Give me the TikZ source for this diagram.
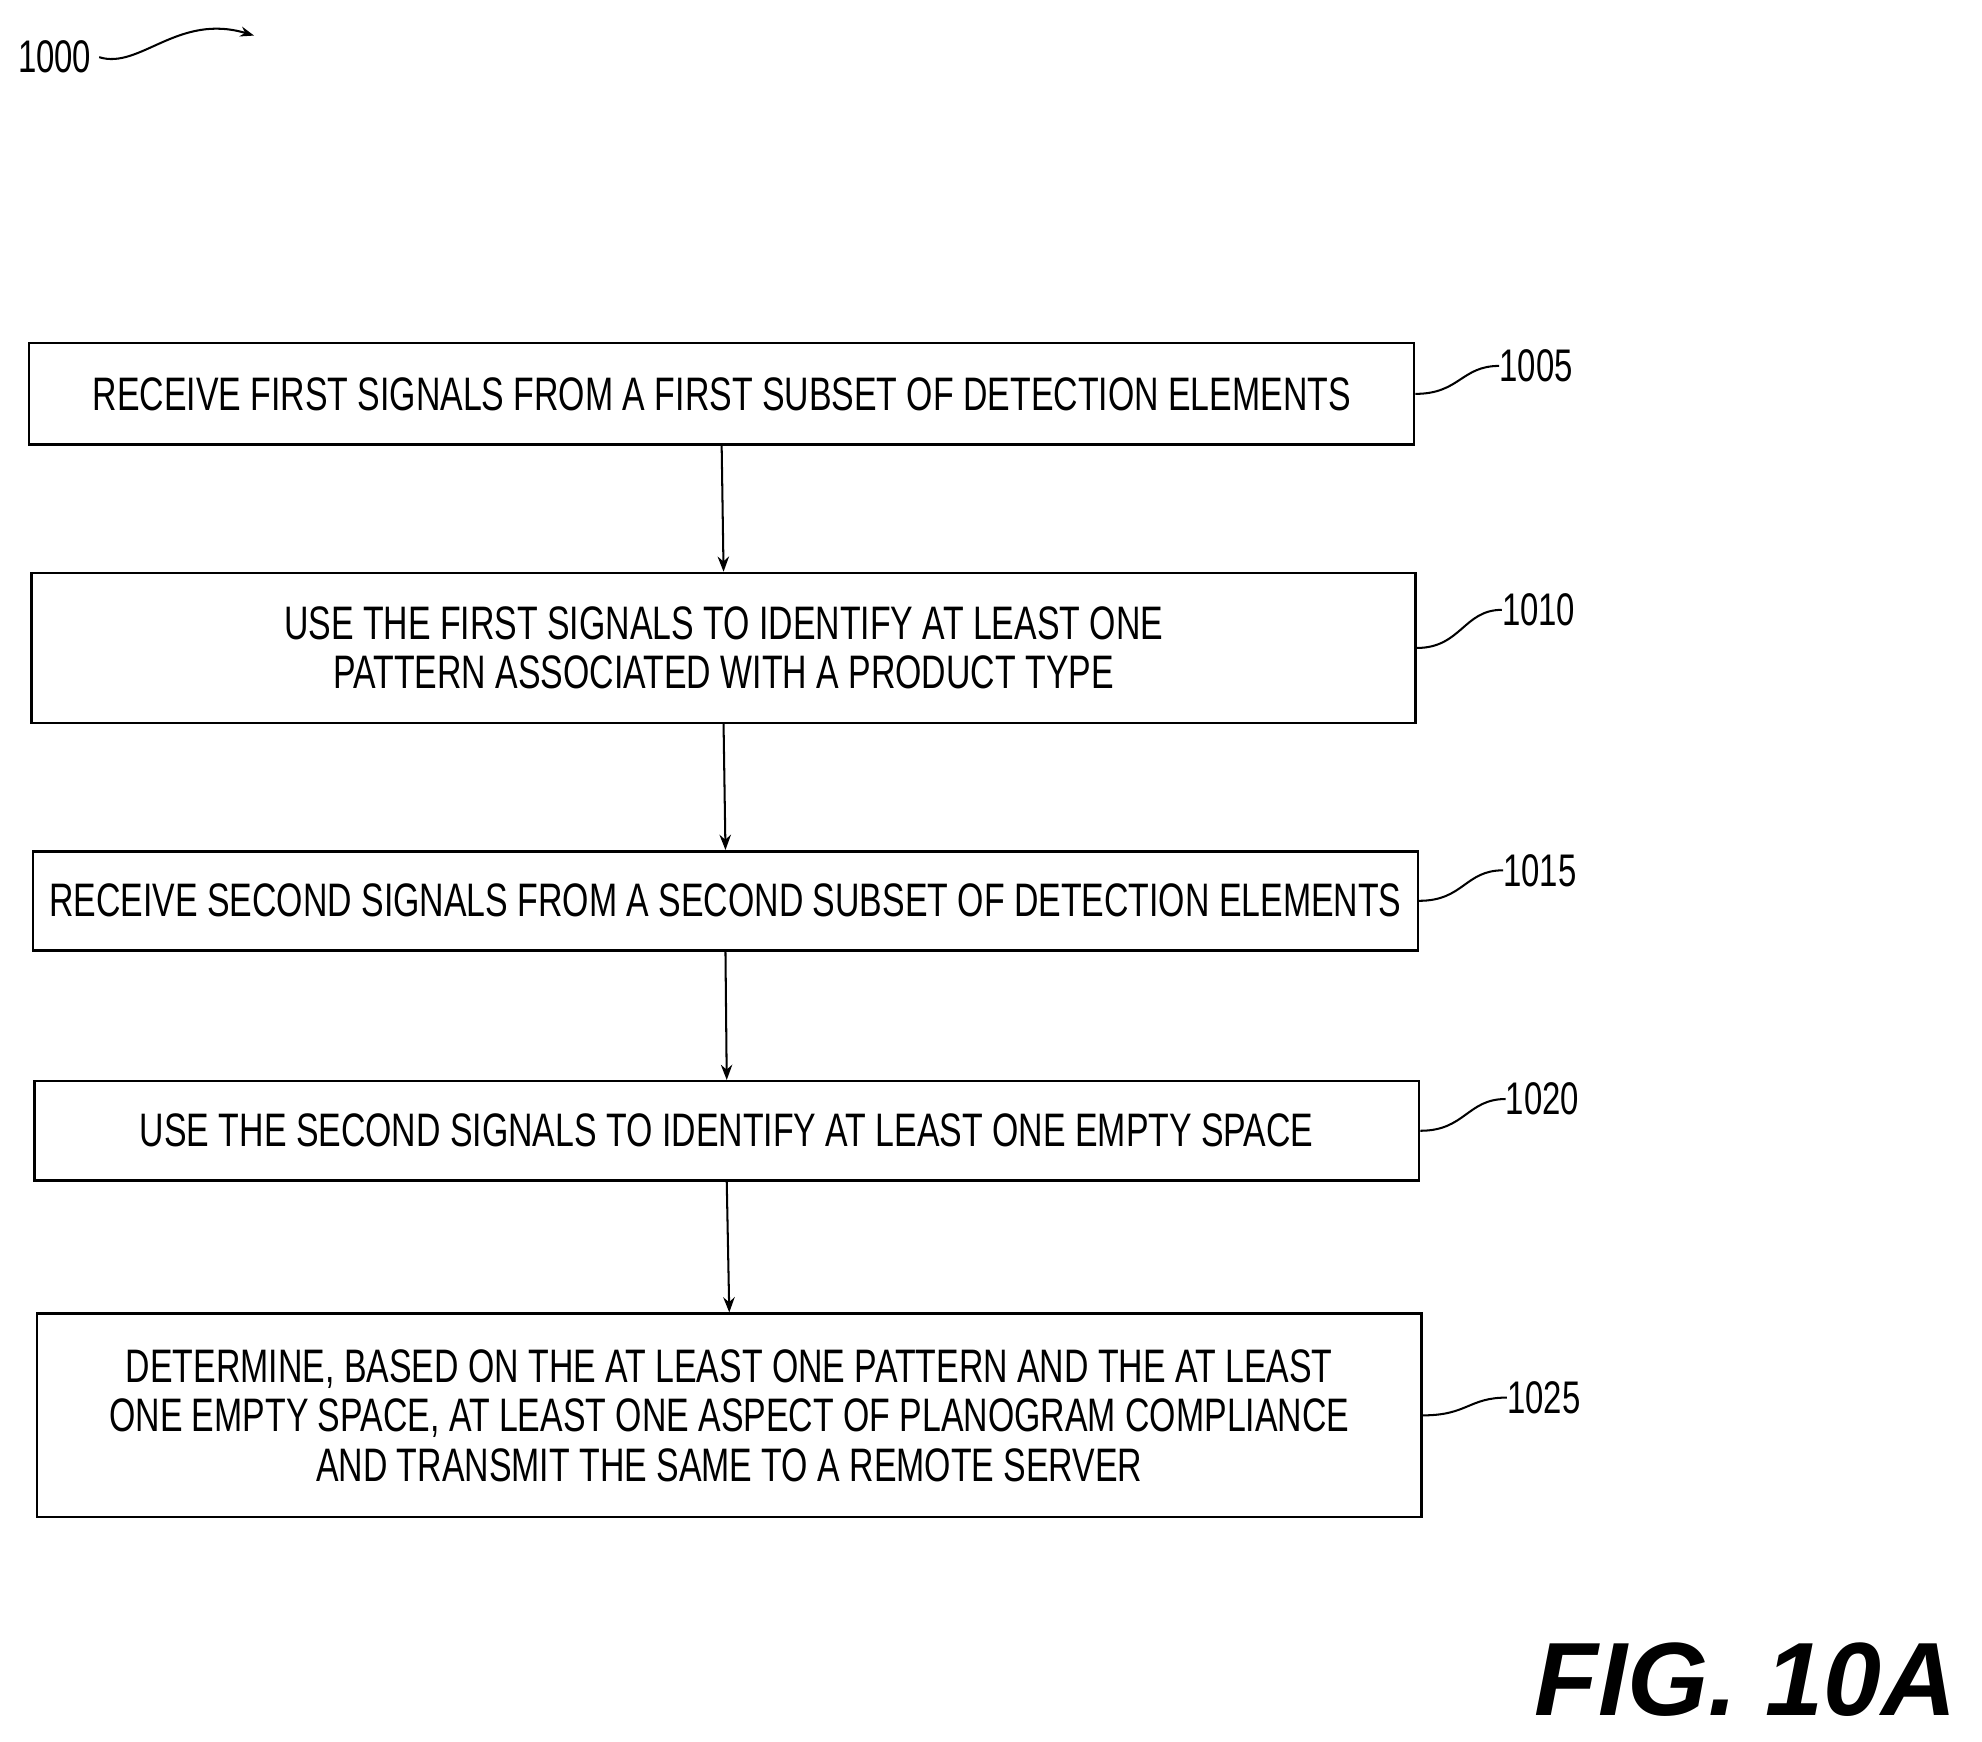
\documentclass[tikz,border=0pt]{standalone}
\usepackage{fontspec}
\setmainfont{Liberation Sans}[FakeStretch=0.72]
\newfontfamily\figfont{Liberation Sans}
\usetikzlibrary{arrows.meta}
\begin{document}
\begin{tikzpicture}[x=1pt,y=-1pt,
  box/.style={draw,line width=2pt,inner sep=0pt,anchor=north west,align=center,font=\fontsize{37}{39}\selectfont},
  lab/.style={font=\fontsize{36}{38}\selectfont,anchor=west,inner sep=0pt},
  arr/.style={line width=1.6pt,-{Stealth[length=12pt,width=9pt]}},
  lead/.style={line width=1.6pt}]
\useasboundingbox (0,0) rectangle (1560,1371);
\node[box,minimum width=1090pt,minimum height=80pt] (b1) at (22,269) {RECEIVE FIRST SIGNALS FROM A FIRST SUBSET OF DETECTION ELEMENTS};
\node[box,minimum width=1089pt,minimum height=118pt] (b2) at (24,450) {USE THE FIRST SIGNALS TO IDENTIFY AT LEAST ONE\\PATTERN ASSOCIATED WITH A PRODUCT TYPE};
\node[box,minimum width=1090pt,minimum height=78pt] (b3) at (25,669) {RECEIVE SECOND SIGNALS FROM A SECOND SUBSET OF DETECTION ELEMENTS};
\node[box,minimum width=1090pt,minimum height=78pt] (b4) at (26,850) {USE THE SECOND SIGNALS TO IDENTIFY AT LEAST ONE EMPTY SPACE};
\node[box,minimum width=1090pt,minimum height=160pt] (b5) at (28,1033) {DETERMINE, BASED ON THE AT LEAST ONE PATTERN AND THE AT LEAST\\ONE EMPTY SPACE, AT LEAST ONE ASPECT OF PLANOGRAM COMPLIANCE\\AND TRANSMIT THE SAME TO A REMOTE SERVER};
\foreach \a/\b in {b1/b2,b2/b3,b3/b4,b4/b5}{\draw[arr] (\a.south) -- (\b.north);}
\node[lab] (l1) at (1180,288) {1005};
\node[lab] (l2) at (1182,480) {1010};
\node[lab] (l3) at (1183,685) {1015};
\node[lab] (l4) at (1185,865) {1020};
\node[lab] (l5) at (1186,1100) {1025};
\foreach \b/\l in {b1/l1,b2/l2,b3/l3,b4/l4,b5/l5}{
  \draw[lead] (\b.east) .. controls ([xshift=35pt]\b.east) and ([xshift=-30pt]\l.west) .. (\l.west);}
\node[lab] (l0) at (14,45) {1000};
\coordinate (a0) at (200,28);
\draw[lead,-{Stealth[length=11pt,width=8pt]}] ([xshift=6pt]l0.east) .. controls (110,55) and (140,10) .. (a0);
\node[font=\figfont\bfseries\itshape\fontsize{82}{90}\selectfont,inner sep=0pt] (fig) at (1374,1322) {FIG. 10A};
\end{tikzpicture}
\end{document}
